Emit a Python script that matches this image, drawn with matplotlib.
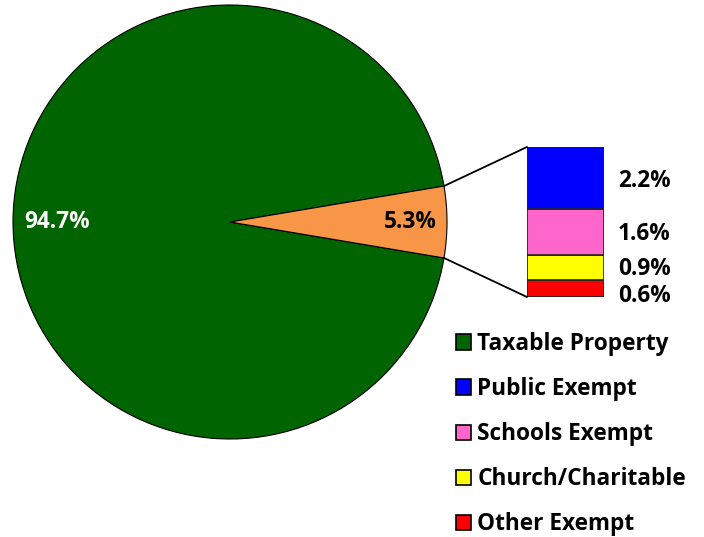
import matplotlib
matplotlib.use("Agg")
import matplotlib.pyplot as plt
from matplotlib.patches import Patch, ConnectionPatch
import numpy as np

plt.rcParams['font.family'] = ['Open Sans', 'DejaVu Sans']
plt.rcParams['font.weight'] = 'bold'

# Data
pie_labels = ["Taxable Property", "Exempt"]
pie_values = [94.7, 5.3]
pie_colors = ["#006400", "#F79646"]

bar_labels = ["Other Exempt", "Church/Charitable", "Schools Exempt", "Public Exempt"]
bar_values = [0.6, 0.9, 1.6, 2.2]
bar_colors = ["#FF0000", "#FFFF00", "#FF66CC", "#0000FF"]

legend_labels = ["Taxable Property", "Public Exempt", "Schools Exempt", "Church/Charitable", "Other Exempt"]
legend_colors = ["#006400", "#0000FF", "#FF66CC", "#FFFF00", "#FF0000"]

FS = 16.3

W, H = 704, 537
fig = plt.figure(figsize=(W / 100, H / 100), dpi=100)

# Pie axes
cx, cy, r = 230, 222, 217
axp = fig.add_axes([(cx - r) / W, (H - cy - r) / H, 2 * r / W, 2 * r / H])
half = pie_values[1] / sum(pie_values) * 360 / 2
wedges, _ = axp.pie(pie_values, colors=pie_colors, startangle=half, counterclock=True,
                    wedgeprops=dict(edgecolor="black", linewidth=0.8), radius=1)
axp.set_xlim(-1, 1)
axp.set_ylim(-1, 1)
axp.set_aspect("equal")
axp.axis("off")
axp.text(-0.797, 0.0, f"{pie_values[0]}%", color="white", fontsize=FS, fontweight="bold",
         ha="center", va="center")
axp.text(0.83, 0.0, f"{pie_values[1]}%", color="black", fontsize=FS, fontweight="bold",
         ha="center", va="center")

# Bar axes
bx0, bx1, by0, by1 = 527, 604, 147, 297
axb = fig.add_axes([bx0 / W, (H - by1) / H, (bx1 - bx0) / W, (by1 - by0) / H])
bottom = 0
centers = []
for v, c in zip(bar_values, bar_colors):
    axb.bar(0, v, bottom=bottom, width=1, color=c, edgecolor="#222222", linewidth=1.2)
    centers.append(bottom + v / 2)
    bottom += v
axb.set_xlim(-0.5, 0.5)
axb.set_ylim(0, sum(bar_values))
axb.axis("off")
offsets = [-7, -2, -2, -3]
for v, yc, off in zip(bar_values, centers, offsets):
    axb.annotate(f"{v}%", xy=(0.5, yc), xytext=(14, off), textcoords="offset pixels",
                 fontsize=FS, fontweight="bold", ha="left", va="center", annotation_clip=False)

# Connection lines
a = np.deg2rad(half)
for sgn, yb in [(1, sum(bar_values)), (-1, 0)]:
    con = ConnectionPatch(xyA=(np.cos(a), sgn * np.sin(a)), coordsA=axp.transData,
                          xyB=(-0.5, yb), coordsB=axb.transData, color="black", linewidth=1.3)
    fig.add_artist(con)

# Legend
handles = [Patch(facecolor=c, edgecolor="black", linewidth=1.2) for c in legend_colors]
fig.legend(handles, legend_labels, loc="upper left", bbox_to_anchor=(456 / W, 1 - 332 / H),
           frameon=False, prop={'weight': 'bold', 'size': FS},
           handlelength=0.66, handleheight=0.66, handletextpad=0.28,
           labelspacing=0.93, borderpad=0, borderaxespad=0)

fig.savefig("out.png", dpi=100)
